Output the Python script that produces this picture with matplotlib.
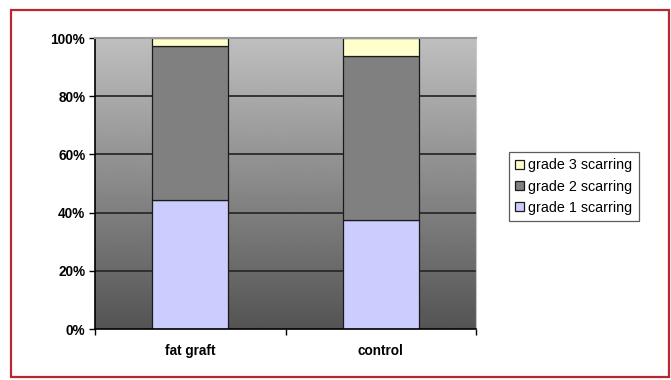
import numpy as np
import matplotlib.pyplot as plt
from matplotlib.patches import Rectangle

plt.rcParams['font.family'] = ['Liberation Sans', 'DejaVu Sans']

# 100% stacked scarring grades per group (percent)
groups = ['fat graft', 'control']
grade1 = [44.4, 37.5]
grade2 = [52.8, 56.25]
grade3 = [2.8, 6.25]
labels = ['grade 1 scarring', 'grade 2 scarring', 'grade 3 scarring']
colors = ['#ccccff', '#808080', '#ffffcc']

fig = plt.figure(figsize=(6.71, 3.80), dpi=100)
ax = fig.add_axes([0.1416, 0.134, 0.5678, 0.766])

x = np.arange(len(groups))
ax.set_xlim(-0.5, len(groups) - 0.5)
ax.set_ylim(0, 100)

# grey gradient wall behind the bars
grad = np.linspace(0.33, 0.75, 256).reshape(-1, 1)
ax.imshow(grad, cmap='gray', vmin=0, vmax=1, origin='lower', aspect='auto',
          extent=(-0.5, len(groups) - 0.5, 0, 100), zorder=0)

for yv in range(20, 100, 20):
    ax.axhline(yv, color='#2a2a2a', lw=1.3, zorder=1)

bottom = np.zeros(len(groups))
handles = []
for vals, lab, col in zip([grade1, grade2, grade3], labels, colors):
    b = ax.bar(x, vals, width=0.4, bottom=bottom, color=col,
               edgecolor='#1a1a1a', lw=0.9, label=lab, zorder=2)
    handles.append(b)
    bottom += np.array(vals)

ax.set_yticks(range(0, 101, 20))
ax.set_yticklabels([f'{v}%' for v in range(0, 101, 20)],
                   fontsize=9.8, fontweight='bold')
ax.set_xticks([-0.5, 0.5, 1.5])
ax.set_xticklabels([])
ax.set_xticks(x, minor=True)
ax.set_xticklabels(groups, minor=True, fontsize=9.8, fontweight='bold')
ax.tick_params(axis='x', which='minor', length=0, pad=11)
ax.tick_params(axis='both', which='major', length=4, width=1, color='black')
ax.tick_params(axis='y', pad=3)

ax.spines['top'].set_color('#9a9a9a')
ax.spines['top'].set_linewidth(1.5)
ax.spines['right'].set_color('#c8c8c8')
ax.spines['left'].set_linewidth(1.2)
ax.spines['bottom'].set_linewidth(1.2)

leg = fig.legend(handles[::-1], labels[::-1], loc='center',
                 bbox_to_anchor=(0.855, 0.509), fontsize=10.3, frameon=True,
                 fancybox=False, edgecolor='#333333', handlelength=0.6,
                 handleheight=0.6, handletextpad=0.3, labelspacing=0.5,
                 borderpad=0.45)
leg.get_frame().set_linewidth(0.9)

# red frame round the whole chart
fig.patches.append(Rectangle((10.5 / 671, 3 / 380), 658 / 671, 367 / 380,
                             transform=fig.transFigure, fill=False,
                             edgecolor='#b8282e', lw=1.6))

fig.savefig('out.png', dpi=100)
